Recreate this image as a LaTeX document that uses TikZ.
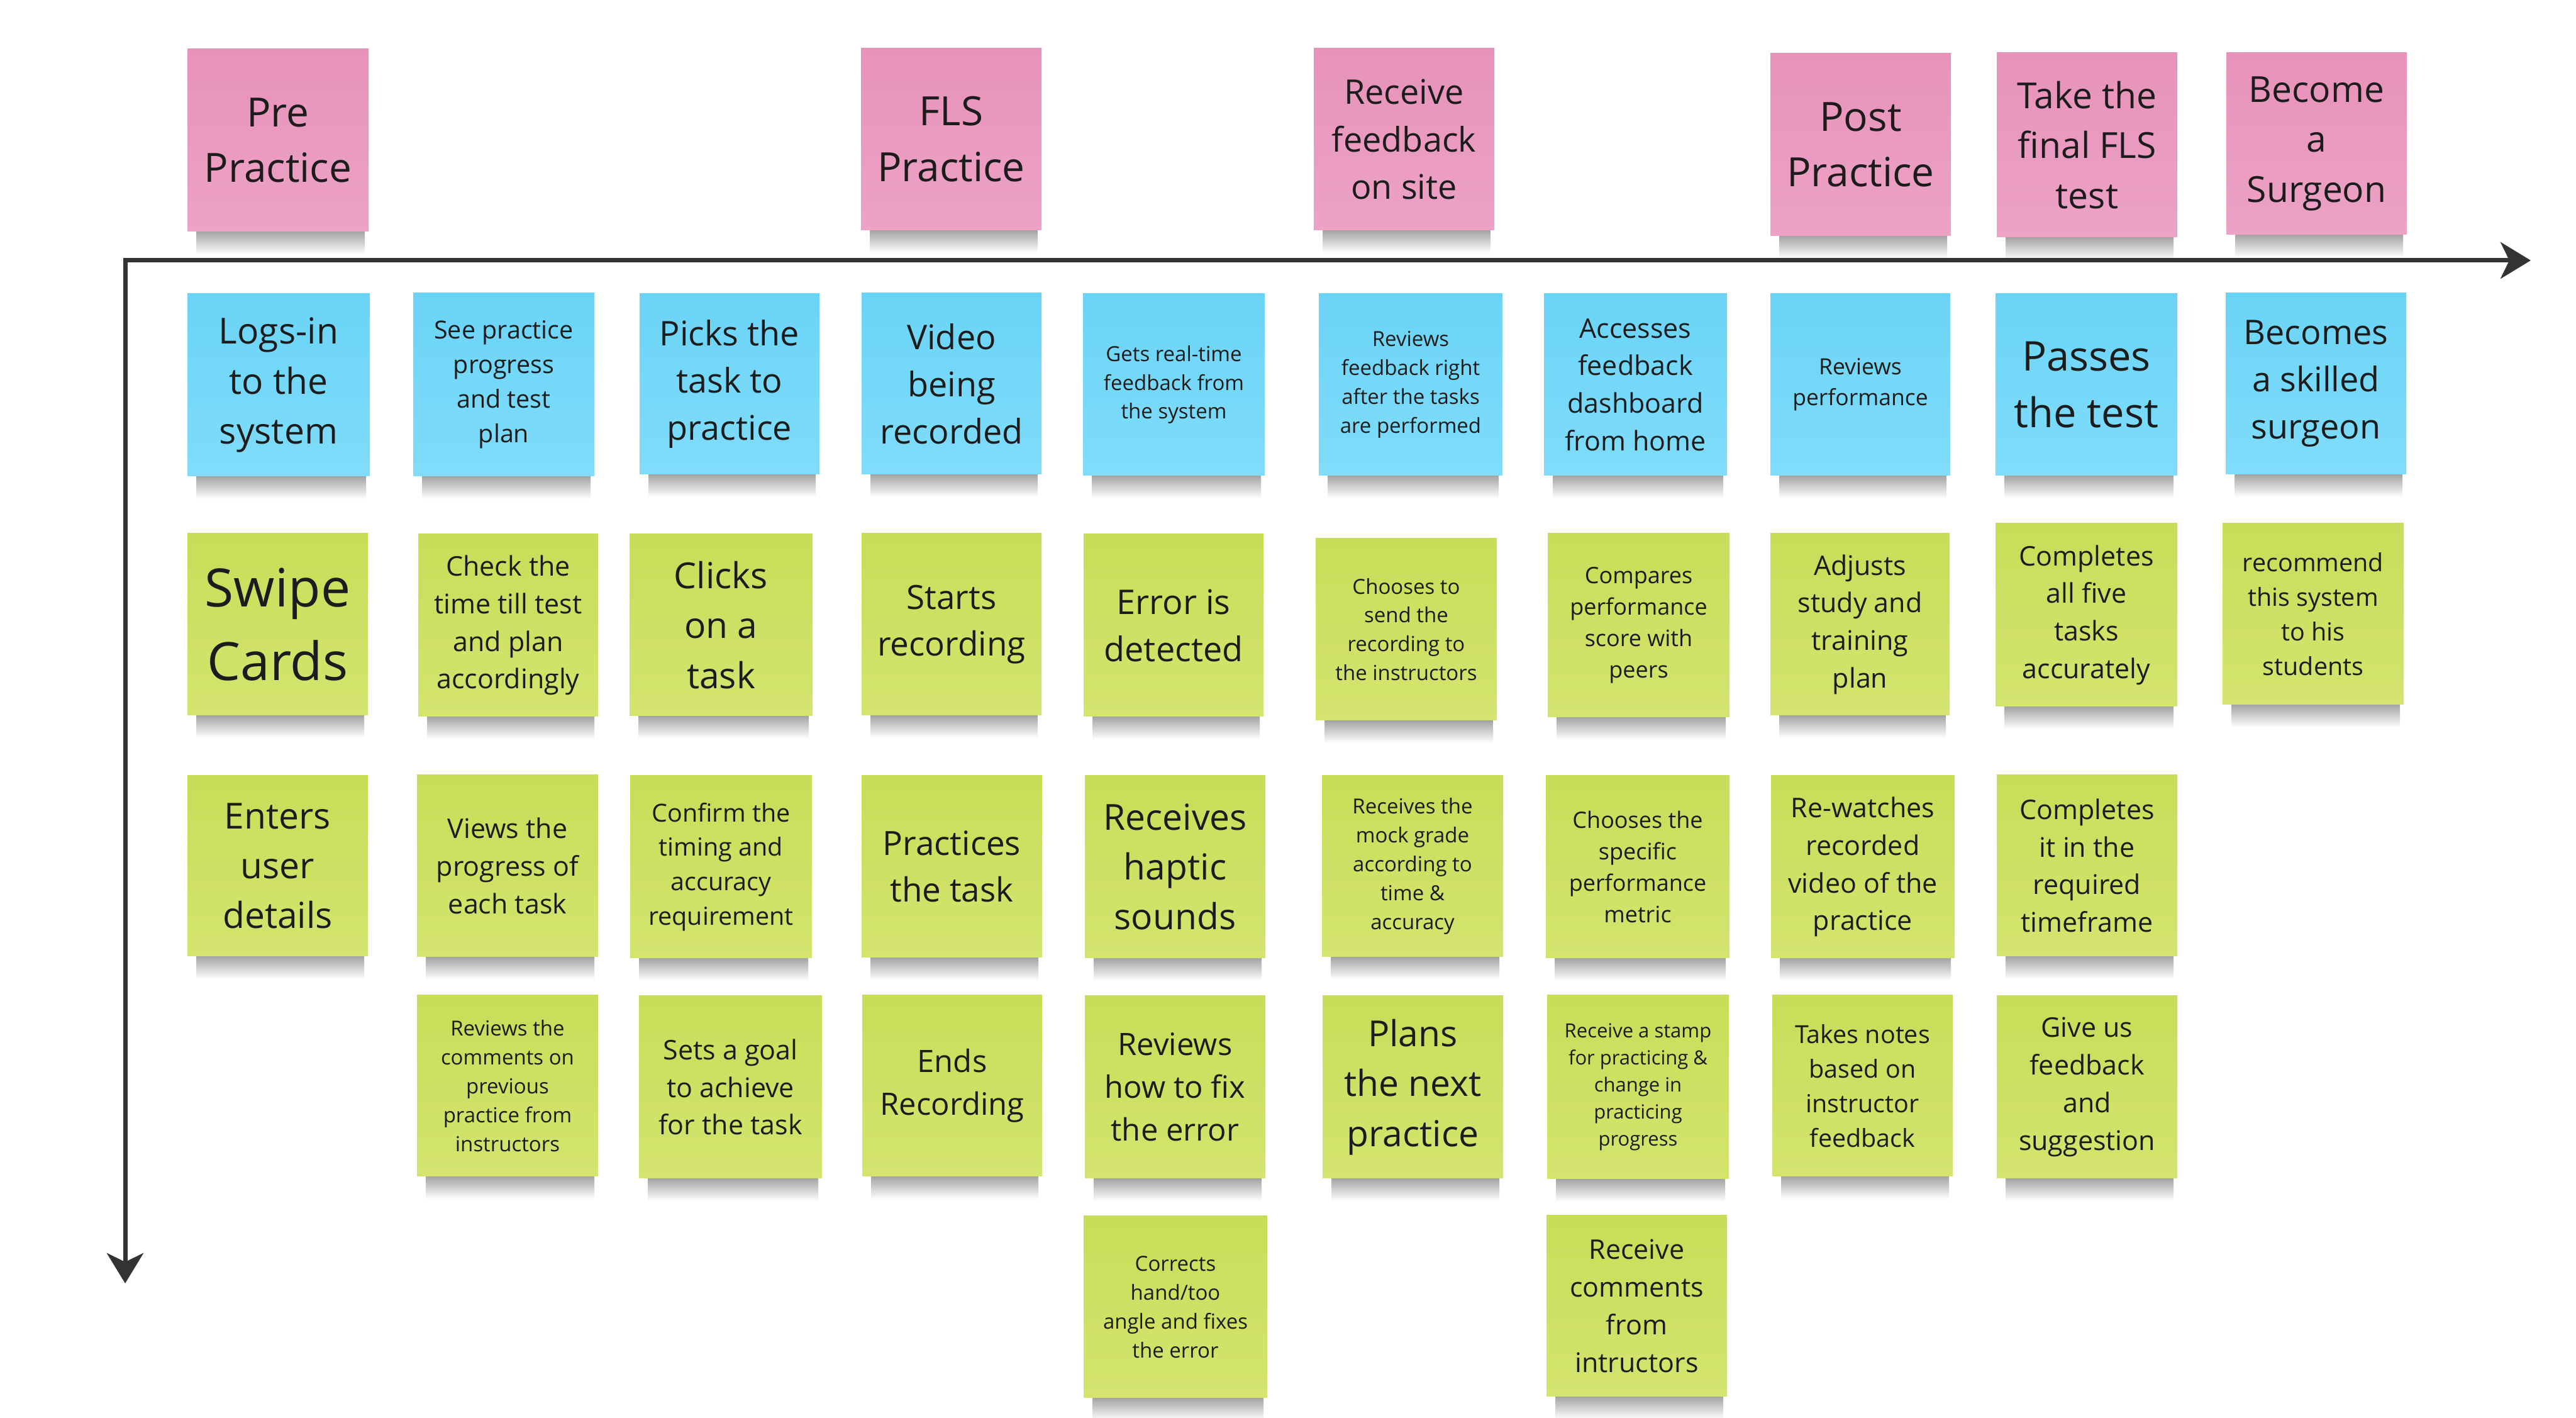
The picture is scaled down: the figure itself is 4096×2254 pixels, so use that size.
\documentclass[tikz,border=0pt]{standalone}
\usepackage{fontspec}
\setmainfont{Open Sans}
\usetikzlibrary{arrows.meta}
\definecolor{pinkT}{HTML}{E792BA}
\definecolor{pinkB}{HTML}{EDA2C6}
\definecolor{blueT}{HTML}{6AD4F7}
\definecolor{blueB}{HTML}{80DCFA}
\definecolor{greenT}{HTML}{C9DD58}
\definecolor{greenB}{HTML}{D4E46F}
\definecolor{inkc}{HTML}{1C1C1C}
\definecolor{axisc}{HTML}{333333}
\tikzset{
  stickybox/.style={rectangle, inner sep=0pt, align=center, text=inkc},
  axisline/.style={draw=axisc, line width=7pt},
  axistip/.style={-{Stealth[length=48pt,width=58pt,inset=14pt]}}
}
\newcommand\stickynote[8]{%
  \pgfmathsetmacro\nya{2254-#3}%
  \pgfmathsetmacro\nyb{2254-#5}%
  \pgfmathsetmacro\nw{#4-#2}%
  \pgfmathsetmacro\nh{#5-#3}%
  \pgfmathsetmacro\ncx{(#2+#4)/2}%
  \pgfmathsetmacro\ncy{\nya-\nh/2}%
  \pgfmathsetmacro\nbl{#7*1.39}%
  \shade[top color=black!38, bottom color=white] (#2+14,\nyb+2) rectangle (#4-6,\nyb-36);
  \node[stickybox, top color=#6T, bottom color=#6B, minimum width=\nw pt, minimum height=\nh pt, font={\fontsize{#7}{\nbl}\selectfont}] (#1) at (\ncx,\ncy) {#8};%
}
\begin{document}
\begin{tikzpicture}[x=1pt,y=1pt]
\useasboundingbox (0,0) rectangle (4096,2254);
\fill[white] (0,0) rectangle (4096,2254);

% phase notes (pink)
\stickynote{p1}{298}{78}{586}{368}{pink}{64}{Pre\\Practice}
\stickynote{p2}{1369}{77}{1656}{366}{pink}{64}{FLS\\Practice}
\stickynote{p3}{2089}{77}{2376}{366}{pink}{54}{Receive\\feedback\\on site}
\stickynote{p4}{2815}{85}{3102}{375}{pink}{64}{Post\\Practice}
\stickynote{p5}{3175}{84}{3462}{377}{pink}{57}{Take the\\final FLS\\test}
\stickynote{p6}{3540}{84}{3827}{373}{pink}{57}{Become\\a\\Surgeon}

% blue row
\stickynote{b1}{298}{467}{588}{757}{blue}{57}{Logs-in\\to the\\system}
\stickynote{b2}{657}{466}{945}{757}{blue}{39.5}{See practice\\progress\\and test\\plan}
\stickynote{b3}{1017}{467}{1303}{754}{blue}{54}{Picks the\\task to\\practice}
\stickynote{b4}{1370}{466}{1656}{754}{blue}{54}{Video\\being\\recorded}
\stickynote{b5}{1722}{467}{2011}{756}{blue}{33}{Gets real-time\\feedback from\\the system}
\stickynote{b6}{2097}{467}{2389}{756}{blue}{33}{Reviews\\feedback right\\after the tasks\\are performed}
\stickynote{b7}{2455}{467}{2746}{756}{blue}{43}{Accesses\\feedback\\dashboard\\from home}
\stickynote{b8}{2815}{467}{3101}{756}{blue}{35.5}{Reviews\\performance}
\stickynote{b9}{3173}{467}{3462}{756}{blue}{65}{Passes\\the test}
\stickynote{b10}{3539}{466}{3826}{754}{blue}{54}{Becomes\\a skilled\\surgeon}

% green row 1
\stickynote{ga1}{298}{848}{585}{1137}{green}{84}{Swipe\\Cards}
\stickynote{ga2}{665}{849}{951}{1139}{green}{43}{Check the\\time till test\\and plan\\accordingly}
\stickynote{ga3}{1001}{849}{1292}{1138}{green}{57}{Clicks\\on a\\task}
\stickynote{ga4}{1370}{848}{1656}{1137}{green}{53}{Starts\\recording}
\stickynote{ga5}{1723}{849}{2009}{1139}{green}{54}{Error is\\detected}
\stickynote{ga6}{2092}{856}{2380}{1145}{green}{33}{Chooses to\\send the\\recording to\\the instructors}
\stickynote{ga7}{2461}{848}{2750}{1140}{green}{36}{Compares\\performance\\score with\\peers}
\stickynote{ga8}{2815}{848}{3100}{1137}{green}{43}{Adjusts\\study and\\training\\plan}
\stickynote{ga9}{3173}{832}{3462}{1123}{green}{43}{Completes\\all five\\tasks\\accurately}
\stickynote{ga10}{3534}{832}{3822}{1120}{green}{39.5}{recommend\\this system\\to his\\students}

% green row 2
\stickynote{gb1}{298}{1233}{585}{1520}{green}{57}{Enters\\user\\details}
\stickynote{gb2}{663}{1232}{951}{1521}{green}{43}{Views the\\progress of\\each task}
\stickynote{gb3}{1002}{1233}{1291}{1523}{green}{39.5}{Confirm the\\timing and\\accuracy\\requirement}
\stickynote{gb4}{1370}{1233}{1657}{1522}{green}{53}{Practices\\the task}
\stickynote{gb5}{1725}{1233}{2012}{1523}{green}{57}{Receives\\haptic\\sounds}
\stickynote{gb6}{2102}{1233}{2390}{1521}{green}{33}{Receives the\\mock grade\\according to\\time \&\\accuracy}
\stickynote{gb7}{2458}{1233}{2750}{1523}{green}{36}{Chooses the\\specific\\performance\\metric}
\stickynote{gb8}{2816}{1233}{3108}{1523}{green}{43}{Re-watches\\recorded\\video of the\\practice}
\stickynote{gb9}{3175}{1232}{3462}{1520}{green}{43}{Completes\\it in the\\required\\timeframe}

% green row 3
\stickynote{gc2}{663}{1582}{951}{1870}{green}{33}{Reviews the\\comments on\\previous\\practice from\\instructors}
\stickynote{gc3}{1016}{1583}{1307}{1873}{green}{43}{Sets a goal\\to achieve\\for the task}
\stickynote{gc4}{1371}{1582}{1657}{1870}{green}{49}{Ends\\Recording}
\stickynote{gc5}{1725}{1583}{2012}{1873}{green}{49}{Reviews\\how to fix\\the error}
\stickynote{gc6}{2103}{1583}{2390}{1873}{green}{57}{Plans\\the next\\practice}
\stickynote{gc7}{2460}{1582}{2749}{1874}{green}{31}{Receive a stamp\\for practicing \&\\change in\\practicing\\progress}
\stickynote{gc8}{2818}{1582}{3105}{1870}{green}{39.5}{Takes notes\\based on\\instructor\\feedback}
\stickynote{gc9}{3175}{1583}{3462}{1873}{green}{43}{Give us\\feedback\\and\\suggestion}

% green row 4
\stickynote{gd5}{1723}{1933}{2015}{2222}{green}{33}{Corrects\\hand/too\\angle and fixes\\the error}
\stickynote{gd7}{2459}{1932}{2746}{2220}{green}{43}{Receive\\comments\\from\\intructors}

% axes (drawn last so the shadows do not cover them)
\coordinate (origin) at (199,{2254-414});
\coordinate (xend) at (4024,{2254-414});
\coordinate (yend) at (199,{2254-2040});
\coordinate (corner) at (195.5,{2254-414});
\draw[axisline, axistip] (corner) -- (xend);
\draw[axisline, axistip] (origin) -- (yend);
\end{tikzpicture}
\end{document}
